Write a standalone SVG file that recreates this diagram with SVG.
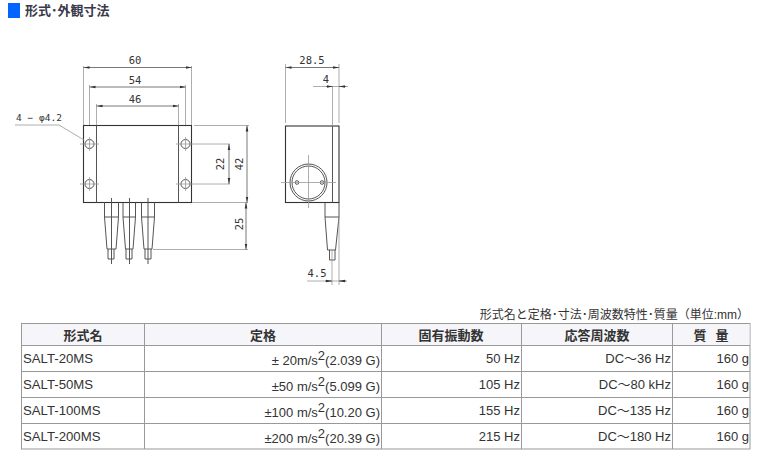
<svg xmlns="http://www.w3.org/2000/svg" width="764" height="457" viewBox="0 0 764 457">
<style>
.l{fill:none;stroke:#555;stroke-width:1}
.m{fill:none;stroke:#333;stroke-width:1.1}
.t{fill:none;stroke:#999;stroke-width:.8}
.d{fill:none;stroke:#555;stroke-width:.8;marker-start:url(#as);marker-end:url(#ae)}
.a{fill:none;stroke:#555;stroke-width:.8;marker-end:url(#ae)}
.dim{font:10.500px "DejaVu Sans Mono","Liberation Sans",sans-serif;fill:#333;text-anchor:middle}
.cell{font:13px "Liberation Sans","Noto Sans CJK JP",sans-serif;fill:#333}
.r{text-anchor:end}
.h{font:bold 13px "Noto Sans CJK JP","Liberation Sans",sans-serif;fill:#333;text-anchor:middle}
.grid{fill:none;stroke:#999;stroke-width:1}
</style>
<defs>
<marker id="ae" markerWidth="6" markerHeight="4" refX="6" refY="2" orient="auto" markerUnits="userSpaceOnUse"><path d="M0 .7L6 2L0 3.300z" fill="#333"/></marker>
<marker id="as" markerWidth="6" markerHeight="4" refX="0" refY="2" orient="auto" markerUnits="userSpaceOnUse"><path d="M6 .7L0 2L6 3.300z" fill="#333"/></marker>
</defs>
<g id="title">
<rect x="8" y="3" width="12" height="15" fill="#0066ff"/>
<text x="25" y="15" style="font:bold 13px 'Noto Sans CJK JP',sans-serif;fill:#3a3a4a">形式･外観寸法</text>
</g>
<g id="front-view">
<rect class="m" x="83.500" y="125.500" width="108" height="77"/>
<path class="l" d="M96.500 125.500V202.500M178.500 125.500V202.500"/>
<circle class="l" cx="89.500" cy="144" r="4.500"/><circle class="l" cx="185.500" cy="144" r="4.500"/>
<circle class="l" cx="89.500" cy="184" r="4.500"/><circle class="l" cx="185.500" cy="184" r="4.500"/>
<path class="t" d="M80 144H99M89.500 137V151M176 144H230M185.500 137V151M80 184H99M89.500 177V191M176 184H230M185.500 177V191"/>
<path class="l" d="M104.500 202.500V217H118.500V202.500M104.500 217L107 249H116L118.500 217M108 249V259H114V249M111.500 198V264"/>
<path class="l" d="M123 202.500V217H135.500V202.500M123 217L125.500 249H133L135.500 217M126 249V259H132V249M129.500 198V264"/>
<path class="l" d="M141.500 202.500V217H154.500V202.500M141.500 217L144 249H152L154.500 217M145 249V259H151V249M148 198V264"/>
</g>
<g id="side-view">
<rect class="m" x="285.500" y="126" width="53.500" height="76.500"/>
<path class="l" d="M332.500 126V202.500"/>
<circle class="l" cx="308.500" cy="182.500" r="18.500"/><circle class="l" cx="308.500" cy="182.500" r="16.500"/>
<circle class="l" cx="297" cy="182.500" r="1.800"/><circle class="l" cx="322" cy="182.500" r="1.800"/>
<path class="t" d="M281 182.500H336M308.500 155V208"/>
<path class="l" d="M325 202.500V217H339V202.500M325 217L327.500 250H335.500L339 217M329.500 250V260H335V250"/>
</g>
<g id="connectors">
<path class="t" d="M83.500 66V125M191.500 66V125M89.500 85V125M185.500 85V125M96.500 104V125M178.500 104V125"/>
<path class="d" d="M83.500 67.500H191.500"/><path class="d" d="M89.500 87H185.500"/><path class="d" d="M96.500 106H178.500"/>
<path class="t" d="M15 125H59L84 140"/>
<path class="t" d="M194 125.500H249M192 202.500H248M153 249.500H248"/>
<path class="d" d="M247 125.500V202.500"/><path class="d" d="M229 144V184"/><path class="d" d="M246 202.500V249.500"/>
<path class="t" d="M285.500 64V123M339 64V123M332.500 86V125"/>
<path class="d" d="M285.500 67.500H339"/>
<path class="t" d="M313 86.500H348M307 281H347M332 250V285M339 217V285"/>
<path class="a" d="M326 86.500H332.500"/><path class="a" d="M346 86.500H339"/>
<path class="a" d="M325 281H332"/><path class="a" d="M346 281H339"/>
</g>
<g id="dim-labels">
<text class="dim" x="135" y="64">60</text><text class="dim" x="135" y="84">54</text><text class="dim" x="135" y="103">46</text>
<text class="dim" x="39" y="121" style="font-size:9.500px">4 − φ4.2</text>
<text class="dim" transform="translate(224 164) rotate(-90)">22</text>
<text class="dim" transform="translate(243 164) rotate(-90)">42</text>
<text class="dim" transform="translate(243 224) rotate(-90)">25</text>
<text class="dim" x="312" y="64">28.5</text>
<text class="dim" x="326" y="83">4</text>
<text class="dim" x="317" y="277">4.5</text>
</g>
<g id="spec-table">
<text class="cell r" x="749" y="319" style="font-size:12px">形式名と定格･寸法･周波数特性･質量（単位:mm）</text>
<rect x="21.500" y="323.500" width="728.500" height="125.500" fill="#fff" class="grid"/>
<rect x="22" y="324" width="727.500" height="21" fill="#f6f6fa"/>
<path class="grid" d="M21.500 345.500H750M21.500 371.500H750M21.500 397.500H750M21.500 423.500H750M144.500 323.500V449M381.500 323.500V449M521.500 323.500V449M672.500 323.500V449"/>
<text class="h" x="83" y="340">形式名</text><text class="h" x="263" y="340">定格</text><text class="h" x="451" y="340">固有振動数</text><text class="h" x="597" y="340">応答周波数</text><text class="h" x="711" y="340">質&#160;&#160;&#160;量</text>
<text class="cell" x="23" y="363" style="font-size:13.200px">SALT-20MS</text><text class="cell" x="23" y="389" style="font-size:13.200px">SALT-50MS</text><text class="cell" x="23" y="415" style="font-size:13.200px">SALT-100MS</text><text class="cell" x="23" y="441" style="font-size:13.200px">SALT-200MS</text>
<text class="cell r" x="380" y="365">± 20m/s<tspan dy="-5">2</tspan><tspan dy="5">(2.039 G)</tspan></text>
<text class="cell r" x="380" y="391">±50 m/s<tspan dy="-5">2</tspan><tspan dy="5">(5.099 G)</tspan></text>
<text class="cell r" x="380" y="417">±100 m/s<tspan dy="-5">2</tspan><tspan dy="5">(10.20 G)</tspan></text>
<text class="cell r" x="380" y="443">±200 m/s<tspan dy="-5">2</tspan><tspan dy="5">(20.39 G)</tspan></text>
<text class="cell r" x="520" y="363">50 Hz</text><text class="cell r" x="520" y="389">105 Hz</text><text class="cell r" x="520" y="415">155 Hz</text><text class="cell r" x="520" y="441">215 Hz</text>
<text class="cell r" x="671" y="363">DC～36 Hz</text><text class="cell r" x="671" y="389">DC～80 kHz</text><text class="cell r" x="671" y="415">DC～135 Hz</text><text class="cell r" x="671" y="441">DC～180 Hz</text>
<text class="cell r" x="749" y="363">160 g</text><text class="cell r" x="749" y="389">160 g</text><text class="cell r" x="749" y="415">160 g</text><text class="cell r" x="749" y="441">160 g</text>
</g>
</svg>
